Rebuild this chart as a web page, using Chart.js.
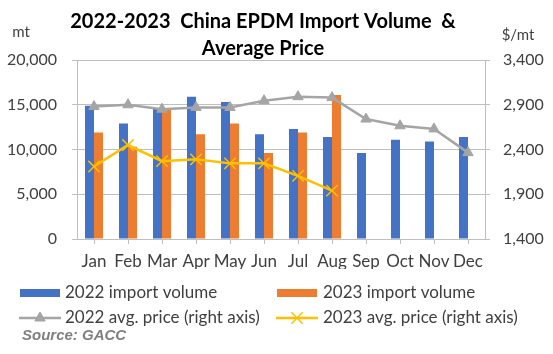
<!DOCTYPE html>
<html>
<head>
<meta charset="utf-8">
<script src="https://cdn.jsdelivr.net/npm/chart.js@4.4.1/dist/chart.umd.min.js"></script>
<style>
  body { margin: 0; background: #fff; }
  canvas { display: block; }
</style>
</head>
<body>
<canvas id="chart" width="553" height="354"></canvas>
<script>
// values
const months = ['Jan', 'Feb', 'Mar', 'Apr', 'May', 'Jun', 'Jul', 'Aug', 'Sep', 'Oct', 'Nov', 'Dec']
const volume2022 = [14900, 12900, 14600, 15900, 15300, 11700, 12300, 11400, 9600, 11100, 10900, 11400]
const volume2023 = [11900, 10300, 14400, 11700, 12900, 9600, 11900, 16100]
const price2022 = [2880, 2900, 2850, 2870, 2870, 2945, 2990, 2980, 2740, 2665, 2630, 2365]
const price2023 = [2210, 2450, 2270, 2290, 2245, 2245, 2105, 1940]
const volumeTicks = [0, 5000, 10000, 15000, 20000]
const priceTicks = [1400, 1900, 2400, 2900, 3400]

const titleLines = ['2022-2023  China EPDM Import Volume  &', 'Average Price']
const sourceText = 'Source: GACC'

const FONT = 'Lato'
const GRID = '#bfbfbf'
const TEXT = '#404040'

Chart.defaults.font.family = FONT
Chart.defaults.color = TEXT

// title, axis units, legend and source are drawn here
const decorations = {
    id: 'decorations',
    afterDraw(chart) {
        const ctx = chart.ctx
        const ds = chart.data.datasets
        ctx.save()
        ctx.textBaseline = 'alphabetic'

        ctx.fillStyle = '#000'
        ctx.font = `bold 20px ${FONT}`
        ctx.textAlign = 'center'
        ctx.fillText(titleLines[0], 263, 28)
        ctx.fillText(titleLines[1], 263, 55)

        ctx.fillStyle = TEXT
        ctx.font = `15px ${FONT}`
        ctx.fillText('mt', 21, 37)
        ctx.fillText('$/mt', 518, 40)

        // legend
        ctx.textAlign = 'left'
        ctx.font = `17px ${FONT}`
        const slots = [
            { sx: 20, tx: 65, y: 293 },
            { sx: 277, tx: 323, y: 293 },
            { sx: 19, tx: 65, y: 318 },
            { sx: 276, tx: 323, y: 318 }
        ]
        ds.forEach((d, k) => {
            const s = slots[k]
            if (d.type === 'bar') {
                ctx.fillStyle = d.backgroundColor
                ctx.fillRect(s.sx, s.y - 4, 40, 8)
            } else {
                ctx.strokeStyle = d.borderColor
                ctx.lineWidth = d.borderWidth
                ctx.beginPath()
                ctx.moveTo(s.sx, s.y)
                ctx.lineTo(s.sx + 42, s.y)
                ctx.stroke()
                ctx.fillStyle = d.pointBackgroundColor
                ctx.lineWidth = d.pointBorderWidth
                Chart.helpers.drawPoint(ctx, {
                    pointStyle: d.pointStyle,
                    radius: d.pointRadius,
                    rotation: 0,
                    borderWidth: d.pointBorderWidth
                }, s.sx + 21, s.y)
            }
            ctx.fillStyle = TEXT
            ctx.fillText(d.label, s.tx, s.y + 5)
        })

        ctx.fillStyle = '#7f7f7f'
        ctx.font = 'italic bold 15px "Liberation Sans"'
        ctx.fillText(sourceText, 22, 340)
        ctx.restore()
    }
}

const ctx = document.getElementById('chart').getContext('2d')

new Chart(ctx, {
    data: {
        labels: months,
        datasets: [
            {
                type: 'bar',
                label: '2022 import volume',
                data: volume2022,
                backgroundColor: '#4472c4',
                yAxisID: 'y',
                order: 2,
                barPercentage: 1,
                categoryPercentage: 0.53
            },
            {
                type: 'bar',
                label: '2023 import volume',
                data: volume2023,
                backgroundColor: '#ed7d31',
                yAxisID: 'y',
                order: 2,
                barPercentage: 1,
                categoryPercentage: 0.53
            },
            {
                type: 'line',
                label: '2022 avg. price (right axis)',
                data: price2022,
                borderColor: '#a5a5a5',
                borderWidth: 2.5,
                pointStyle: 'triangle',
                pointRadius: 6,
                pointBackgroundColor: '#a5a5a5',
                pointBorderColor: '#a5a5a5',
                pointBorderWidth: 1,
                yAxisID: 'y1',
                order: 1
            },
            {
                type: 'line',
                label: '2023 avg. price (right axis)',
                data: price2023,
                borderColor: '#ffc000',
                borderWidth: 2.5,
                pointStyle: 'crossRot',
                pointRadius: 8,
                pointBackgroundColor: '#ffc000',
                pointBorderColor: '#ffc000',
                pointBorderWidth: 1.5,
                yAxisID: 'y1',
                order: 0
            }
        ]
    },
    options: {
        responsive: false,
        animation: false,
        layout: { padding: { top: 60, bottom: 85, left: 0, right: 0 } },
        plugins: {
            legend: { display: false },
            title: { display: false },
            tooltip: { enabled: false }
        },
        scales: {
            x: {
                offset: true,
                grid: { offset: false, drawOnChartArea: false, tickLength: 5, color: GRID },
                border: { color: GRID },
                ticks: { font: { size: 17 }, color: TEXT, padding: 7, maxRotation: 0, autoSkip: false },
                afterFit: s => { s.height = 30 }
            },
            y: {
                position: 'left',
                min: volumeTicks[0],
                max: volumeTicks[volumeTicks.length - 1],
                afterBuildTicks: s => { s.ticks = volumeTicks.map(v => ({ value: v })) },
                grid: { color: GRID, tickLength: 5 },
                border: { color: GRID },
                ticks: {
                    font: { size: 16 },
                    color: TEXT,
                    padding: 15,
                    callback: v => v.toLocaleString('en-US')
                },
                afterFit: s => { s.width = 77 }
            },
            y1: {
                position: 'right',
                min: priceTicks[0],
                max: priceTicks[priceTicks.length - 1],
                afterBuildTicks: s => { s.ticks = priceTicks.map(v => ({ value: v })) },
                grid: { drawOnChartArea: false, color: GRID, tickLength: 5 },
                border: { color: GRID },
                ticks: {
                    font: { size: 16 },
                    color: TEXT,
                    padding: 13,
                    callback: v => v.toLocaleString('en-US')
                },
                afterFit: s => { s.width = 68 }
            }
        }
    },
    plugins: [decorations]
})
</script>
</body>
</html>
